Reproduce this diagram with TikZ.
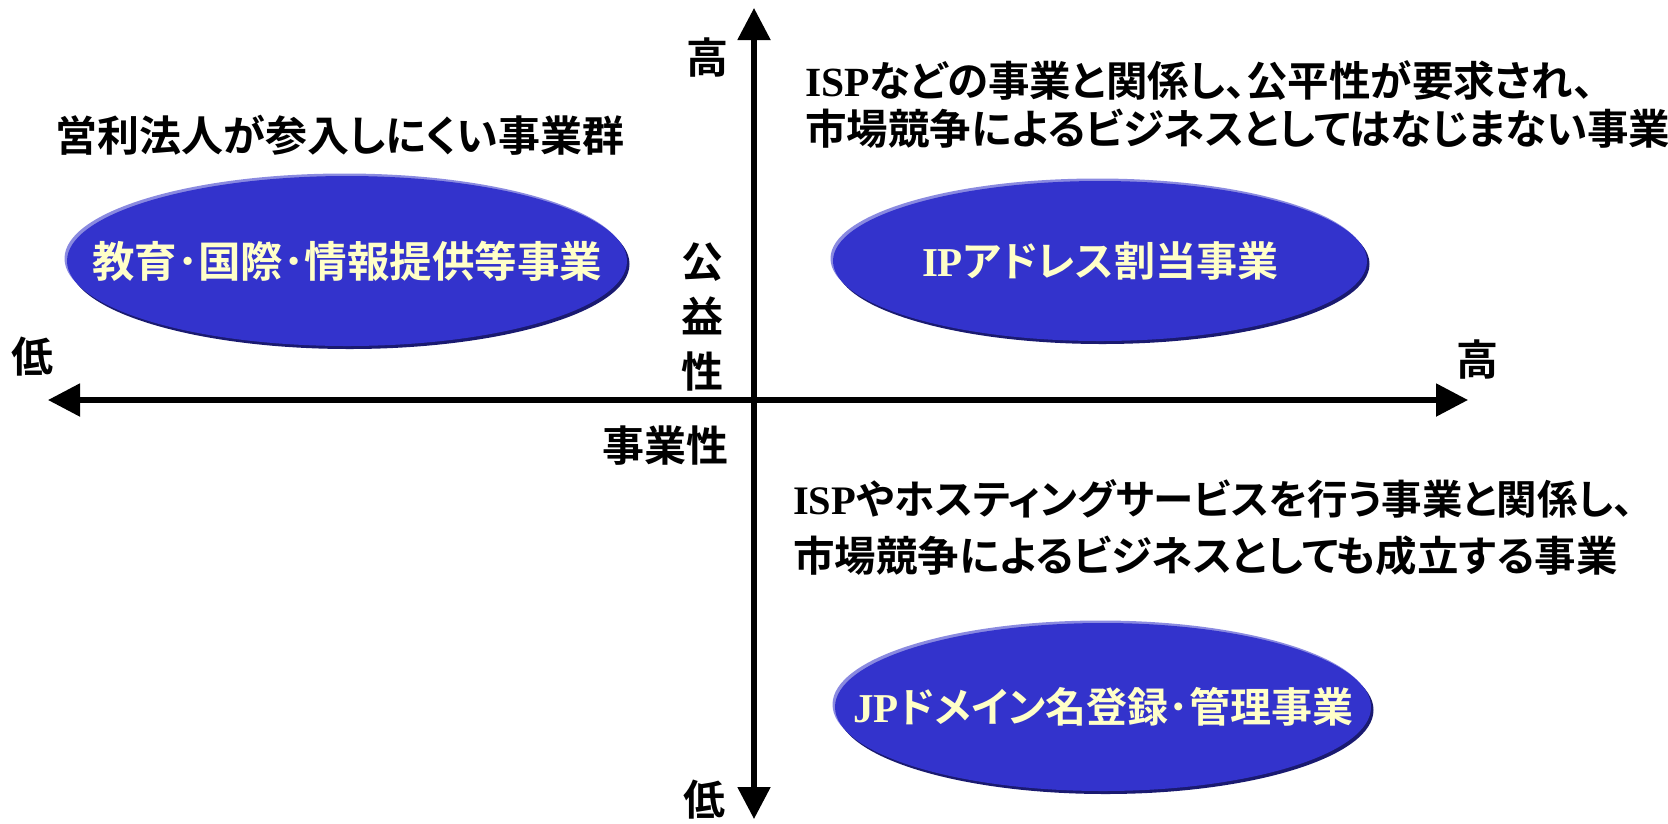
\documentclass[tikz,border=0pt]{standalone}
\usepackage{fontspec}
\setmainfont{Noto Sans CJK JP}[BoldFont={Noto Sans CJK JP Bold},RawFeature=+palt]
\newfontfamily\lat{Liberation Serif}
\usetikzlibrary{arrows.meta,shapes.geometric}
\definecolor{ellblue}{HTML}{3333CC}
\definecolor{elldark}{HTML}{1A1A70}
\definecolor{elllight}{HTML}{8A8AE0}
\definecolor{elltext}{HTML}{FFFFC8}
\tikzset{
  txt/.style={font=\fontsize{41.5}{48}\selectfont\bfseries, inner sep=0pt, text=black},
  axlabel/.style={font=\fontsize{42}{50}\selectfont\bfseries, inner sep=0pt, text=black},
  ell/.style={ellipse, inner sep=0pt, fill=ellblue,
    preaction={fill=elllight, transform canvas={shift={(-2.5pt,2.5pt)}}},
    preaction={fill=elldark, transform canvas={shift={(2.5pt,-3pt)}}}},
  elltxt/.style={inner sep=0pt, text=elltext, font=\fontsize{41}{48}\selectfont\bfseries},
  axis/.style={line width=5.3pt, -{Triangle[length=32pt,width=32pt]}}
}
\begin{document}
\begin{tikzpicture}[x=1pt,y=-1pt]
\useasboundingbox (0,0) rectangle (1668,823);
% axes
\coordinate (o) at (754,400);
\coordinate (xl) at (48,400);
\coordinate (xr) at (1468,400);
\coordinate (yt) at (754,8);
\coordinate (yb) at (754,819);
\draw[axis] (o) -- (xl);
\draw[axis] (o) -- (xr);
\draw[axis] (o) -- (yt);
\draw[axis] (o) -- (yb);
% axis labels
\node[axlabel] (hiy) at (707,58) {高};
\node[axlabel] (loy) at (704,800) {低};
\node[axlabel] (lox) at (32,357) {低};
\node[axlabel] (hix) at (1477,360) {高};
\node[axlabel, align=center, font=\fontsize{42}{55}\selectfont\bfseries] (koueki) at (702,317) {公\\益\\性};
\node[axlabel] (jigyo) at (665,446) {事業性};
% texts
\node[txt, anchor=west, font=\fontsize{42}{48}\selectfont\bfseries] (t1) at (55,135) {営利法人が参入しにくい事業群};
\node[txt, anchor=west] (t2) at (805,80) {{\lat ISP}などの事業と関係し、公平性が要求され、};
\node[txt, anchor=west] (t3) at (805,129) {市場競争によるビジネスとしてはなじまない事業};
\node[txt, anchor=west, font=\fontsize{40.5}{48}\selectfont\bfseries] (t4) at (793,499) {{\lat ISP}やホスティングサービスを行う事業と関係し、};
\node[txt, anchor=west] (t5) at (793,556) {市場競争によるビジネスとしても成立する事業};
% ellipses
\node[ell, minimum width=560pt, minimum height=170pt] (e1) at (347,261) {};
\node[ell, minimum width=534pt, minimum height=160pt] (e2) at (1100,261) {};
\node[ell, minimum width=536pt, minimum height=168pt] (e3) at (1103,707) {};
\node[elltxt, font=\fontsize{42.5}{48}\selectfont\bfseries] (e1t) at (e1.center) {教育･国際･情報提供等事業};
\node[elltxt] (e2t) at (e2.center) {{\lat IP}アドレス割当事業};
\node[elltxt] (e3t) at (e3.center) {{\lat JP}ドメイン名登録･管理事業};
\end{tikzpicture}
\end{document}
